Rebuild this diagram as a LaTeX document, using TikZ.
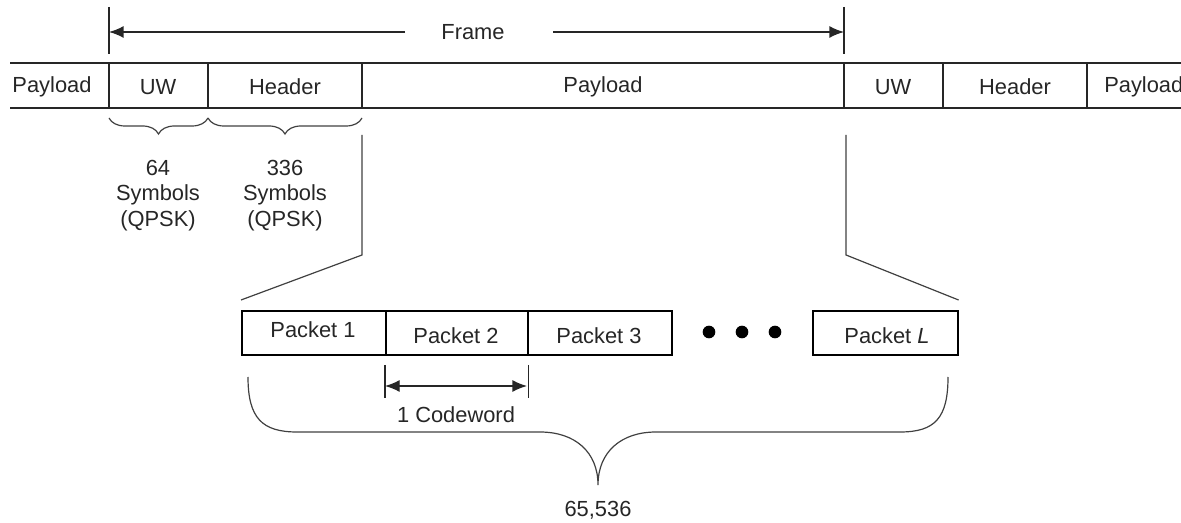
\documentclass[tikz,border=0pt]{standalone}
\usepackage{fontspec}
\setmainfont{Liberation Sans}
\usetikzlibrary{arrows.meta,decorations.pathreplacing}
\begin{document}
\begin{tikzpicture}[x=0.75pt,y=-0.75pt,
  every node/.style={font=\fontsize{16.4}{19}\selectfont, text=black!85, inner sep=0pt},
  rowline/.style={line width=1.2pt, black!85},
  thin/.style={line width=0.9pt, black!75},
  tip/.style={-{Latex[length=11pt,width=9pt]}, line width=1.1pt, black!85},
  smallbrace/.style={thin, decorate, decoration={brace, mirror, amplitude=12pt}},
  dot/.style={circle, fill=black, minimum size=9.5pt, inner sep=0pt}]
\useasboundingbox (0,0) rectangle (1181,523);
% Frame dimension
\coordinate (fl1) at (109,7); \coordinate (fl2) at (109,54);
\coordinate (fr1) at (844,7); \coordinate (fr2) at (844,54);
\draw[rowline] (fl1) -- (fl2);
\draw[rowline] (fr1) -- (fr2);
\node (frame) at (473,32) {Frame};
\coordinate (fa1) at (405,32); \coordinate (fa2) at (553,32);
\draw[tip] (fa1) -- (109,32);
\draw[tip] (fa2) -- (844,32);
% top row
\draw[rowline] (10,63) -- (1181,63);
\draw[rowline] (10,108) -- (1181,108);
\foreach \x in {109,208,362,844,943,1087} \draw[rowline] (\x,63) -- (\x,108);
\node (p0) at (52,87) {Payload};
\node (uw1) at (158,87) {UW};
\node (hd1) at (285,87) {Header};
\node (pl1) at (603,87) {Payload};
\node (uw2) at (893,87) {UW};
\node (hd2) at (1015,87) {Header};
\node[anchor=west] (p2) at (1104,87) {Payload};
% small braces
\draw[smallbrace] (109,118) -- (208,118);
\draw[smallbrace] (208,118) -- (362,118);
\node[align=center, anchor=north] (n64) at (158,160) {64\\Symbols\\(QPSK)};
\node[align=center, anchor=north] (n336) at (285,160) {336\\Symbols\\(QPSK)};
% packet row
\node[draw, line width=1.2pt, minimum width=108pt, minimum height=33pt, anchor=north west] (pk1) at (241,310) {};
\node[draw, line width=1.2pt, minimum width=106.5pt, minimum height=33pt, anchor=north west] (pk2) at (385,310) {};
\node[draw, line width=1.2pt, minimum width=108pt, minimum height=33pt, anchor=north west] (pk3) at (527,310) {};
\node[draw, line width=1.2pt, minimum width=108.75pt, minimum height=33pt, anchor=north west] (pkL) at (812,310) {};
\node at (313,330) {Packet 1};
\node at (456,336) {Packet 2};
\node at (599,336) {Packet 3};
\node at (887,336) {Packet \textit{L}};
\node[dot] (d1) at (709,332) {};
\node[dot] (d2) at (742,332) {};
\node[dot] (d3) at (775,332) {};
% expansion lines
\draw[thin] (362,135) -- (362,255) -- (pk1.north west |- 0,300);
\draw[thin] (846,135) -- (846,255) -- (pkL.north east |- 0,300);
% codeword
\draw[rowline, line width=1pt] (pk2.south west |- 0,365) -- (pk2.south west |- 0,398);
\draw[rowline, line width=1pt] (pk2.south east |- 0,365) -- (pk2.south east |- 0,398);
\coordinate (cwl) at (385,386); \coordinate (cwr) at (527,386);
\draw[tip, {Latex[length=11pt,width=9pt]}-{Latex[length=11pt,width=9pt]}, line width=1pt] (cwl) -- (cwr);
\node (cw) at (456,415) {1 Codeword};
% big brace
\draw[thin] (248,377) .. controls (248,418) and (262,432) .. (297,432) -- (540,432)
  .. controls (575,432) and (598,452) .. (598,485)
  .. controls (598,452) and (621,432) .. (656,432) -- (900,432)
  .. controls (935,432) and (948,418) .. (948,377);
\node (total) at (598,510) {65,536};
\end{tikzpicture}
\end{document}
